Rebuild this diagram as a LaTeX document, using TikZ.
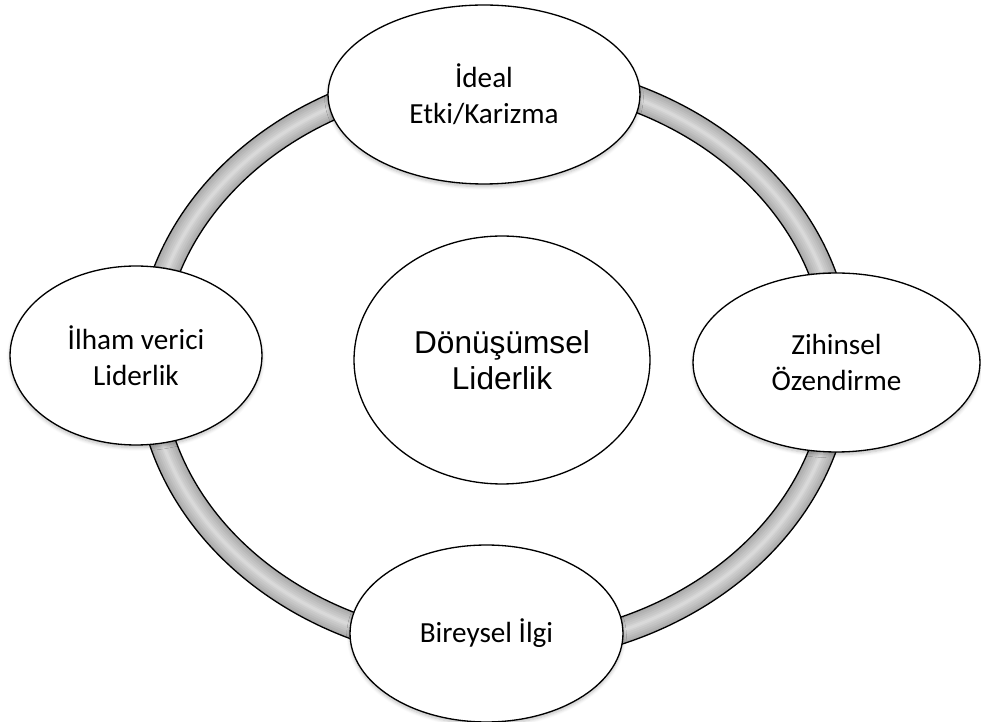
\documentclass[tikz,border=0pt]{standalone}
\usepackage{fontspec}
\setmainfont{Carlito}
\newfontfamily\arialfont{Liberation Sans}
\usetikzlibrary{shapes.geometric,shadows.blur}
\tikzset{
	factor/.style={ellipse,draw,line width=0.75pt,fill=white,inner sep=0pt,align=center,
		font=\fontsize{16.6}{20.3}\selectfont,
		blur shadow={shadow xshift=0pt,shadow yshift=-1.5pt,shadow blur steps=6,shadow opacity=25}},
	core/.style={ellipse,draw,line width=0.75pt,fill=white,inner sep=0pt,align=center,
		font=\arialfont\fontsize{18}{20.5}\selectfont}
}
\begin{document}
\begin{tikzpicture}[x=0.02cm,y=-0.02cm]
	\useasboundingbox (0,0) rectangle (981,722);
	% ring
	\foreach \w/\c in {26/33,22/30,18/27,14/24,10/21,6/18,3/15}{
		\draw[line width=\w*0.02cm,black!\c] (494,362) ellipse [x radius=345,y radius=289];
	}
	\foreach \r in {0,26}{
		\draw[line width=0.75pt] (494,362) ellipse [x radius=358-\r,y radius=302-\r];
	}
	% outer ellipses
	\node[factor,minimum width=6.24cm,minimum height=3.58cm] (ideal) at (484,94.5) {İdeal\\Etki/Karizma};
	\node[factor,minimum width=5.04cm,minimum height=3.58cm] (ilham) at (136,355.5) {İlham verici\\Liderlik};
	\node[factor,minimum width=5.74cm,minimum height=3.58cm] (zihinsel) at (836.5,362.5) {Zihinsel\\Özendirme};
	\node[factor,minimum width=5.46cm,minimum height=3.54cm] (bireysel) at (486.5,633.5) {Bireysel İlgi};
	% centre
	\node[core,minimum width=5.92cm,minimum height=4.96cm] (donusum) at (502,360) {Dönüşümsel\\Liderlik};
\end{tikzpicture}
\end{document}
